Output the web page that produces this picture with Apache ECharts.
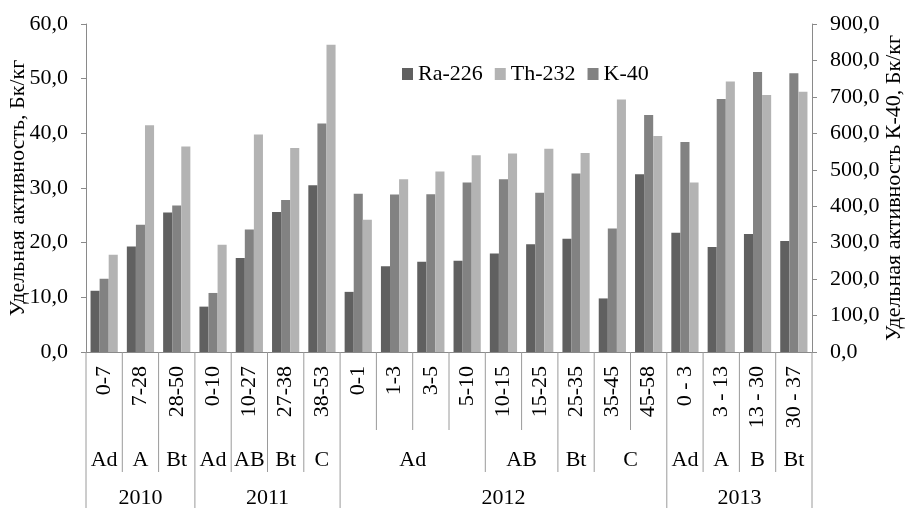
<!DOCTYPE html>
<html>
<head>
<meta charset="utf-8">
<script src="https://cdn.jsdelivr.net/npm/echarts@6/dist/echarts.min.js"></script>
<style>html,body{margin:0;padding:0;background:#fff;}#c{width:906px;height:508px;}</style>
</head>
<body>
<div id="c"></div>
<script>
const categories = ['0-7','7-28','28-50','0-10','10-27','27-38','38-53','0-1','1-3','3-5','5-10','10-15','15-25','25-35','35-45','45-58','0 - 3','3 - 13','13 - 30','30 - 37'];
const horizonLabels = ['Ad','A','Bt','Ad','AB','Bt','C','Ad','AB','Bt','C','Ad','A','B','Bt'];
const horizonSpans  = [1,1,1,1,1,1,1,4,2,1,2,1,1,1,1];
const yearLabels = ['2010','2011','2012','2013'];
const yearSpans  = [3,4,9,4];
const ra226 = [11.2,19.3,25.5,8.3,17.2,25.6,30.5,11.0,15.7,16.5,16.7,18.0,19.7,20.7,9.8,32.5,21.8,19.2,21.6,20.3];
const th232 = [17.8,41.5,37.6,19.6,39.8,37.3,56.2,24.2,31.6,33.0,36.0,36.3,37.2,36.4,46.2,39.5,31.0,49.5,47.0,47.6];
const k40   = [201,349,402,162,336,417,627,434,432,433,465,474,437,490,339,650,576,694,768,765];
const leftTicks = {min:0, max:60, interval:10};
const rightTicks = {min:0, max:900, interval:100};

const FONT = "'Liberation Serif','Times New Roman',serif";
const FS = 22;

// group starts
const horizonStart = {}; let acc = 0;
horizonSpans.forEach((s,k)=>{ horizonStart[acc] = {label:horizonLabels[k], span:s}; acc += s; });
const yearStart = {}; acc = 0;
yearSpans.forEach((s,k)=>{ yearStart[acc] = {label:yearLabels[k], span:s}; acc += s; });

const fmt = v => v.toFixed(1).replace('.', ',');
const LINE = '#9a9a9a';

const chart = echarts.init(document.getElementById('c'));
chart.setOption({
  animation:false,
  backgroundColor:'#fff',
  textStyle:{fontFamily:FONT},
  grid:{left:86, right:94, top:24, bottom:156, containLabel:false, outerBoundsMode:'none'},
  legend:{
    data:['Ra-226','Th-232','K-40'],
    left:397, top:58, icon:'rect', itemWidth:11, itemHeight:12, itemGap:12, itemTextGap:3,
    textStyle:{fontFamily:FONT, fontSize:FS, color:'#000'}
  },
  xAxis:{
    type:'category', data:categories,
    axisLine:{lineStyle:{color:'#8a8a8a', width:1}},
    axisTick:{show:false},
    axisLabel:{rotate:90, interval:0, margin:14, fontFamily:FONT, fontSize:FS, color:'#000'}
  },
  yAxis:[
    {type:'value', min:leftTicks.min, max:leftTicks.max, interval:leftTicks.interval,
     name:'Удельная активность, Бк/кг', nameLocation:'middle', nameGap:57, nameRotate:90, nameMoveOverlap:false,
     nameTextStyle:{fontFamily:FONT, fontSize:FS, color:'#000'},
     axisLine:{show:true, lineStyle:{color:'#8a8a8a'}},
     axisTick:{show:true, length:5, lineStyle:{color:'#8a8a8a'}},
     splitLine:{show:false},
     axisLabel:{formatter:fmt, fontFamily:FONT, fontSize:FS, color:'#000', margin:18}},
    {type:'value', min:rightTicks.min, max:rightTicks.max, interval:rightTicks.interval, position:'right',
     name:'Удельная активность К-40, Бк/кг', nameLocation:'middle', nameGap:71, nameRotate:90, nameMoveOverlap:false,
     nameTextStyle:{fontFamily:FONT, fontSize:FS, color:'#000'},
     axisLine:{show:true, lineStyle:{color:'#8a8a8a'}},
     axisTick:{show:true, length:5, lineStyle:{color:'#8a8a8a'}},
     splitLine:{show:false},
     axisLabel:{formatter:fmt, fontFamily:FONT, fontSize:FS, color:'#000', margin:18}}
  ],
  series:[
    {name:'Ra-226', type:'bar', data:ra226, yAxisIndex:0, barGap:'0%', barCategoryGap:'25%', itemStyle:{color:'#606060'}},
    {name:'K-40', type:'bar', data:k40, yAxisIndex:1, barGap:'0%', barCategoryGap:'25%', itemStyle:{color:'#828282'}},
    {name:'Th-232', type:'bar', data:th232, yAxisIndex:0, barGap:'0%', barCategoryGap:'25%', itemStyle:{color:'#b3b3b3'}},
    {
      type:'custom', silent:true, clip:false, yAxisIndex:0,
      data: categories.map((c,i)=>[i,0]),
      encode:{x:0, y:1},
      renderItem:function(params, api){
        const i = api.value(0);
        const p = api.coord([i, 0]);
        const bw = api.size([1, 0])[0];
        const left = p[0] - bw/2;
        const y0 = p[1];
        const children = [];
        const lenFor = idx => yearStart[idx] ? 156 : (horizonStart[idx] ? 120 : 78);
        children.push({type:'line', shape:{x1:left, y1:y0, x2:left, y2:y0+lenFor(i)}, style:{stroke:LINE, lineWidth:1}});
        if (i === categories.length-1) {
          children.push({type:'line', shape:{x1:left+bw, y1:y0, x2:left+bw, y2:y0+156}, style:{stroke:LINE, lineWidth:1}});
        }
        if (horizonStart[i]) {
          children.push({type:'text', style:{text:horizonStart[i].label, x:left+horizonStart[i].span*bw/2, y:y0+108,
            textAlign:'center', textVerticalAlign:'middle', font:FS+'px '+FONT, fill:'#000'}});
        }
        if (yearStart[i]) {
          children.push({type:'text', style:{text:yearStart[i].label, x:left+yearStart[i].span*bw/2, y:y0+146,
            textAlign:'center', textVerticalAlign:'middle', font:FS+'px '+FONT, fill:'#000'}});
        }
        return {type:'group', children:children};
      }
    }
  ]
});
</script>
</body>
</html>
